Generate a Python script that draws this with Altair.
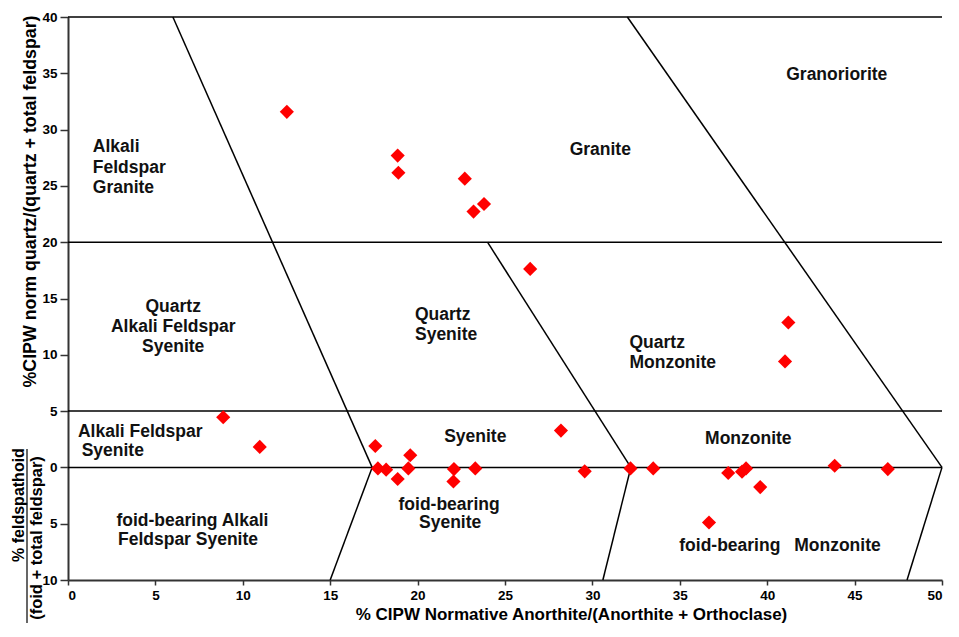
import altair as alt
import pandas as pd

# ---- sample points ----
pt_x = [12.52, 18.86, 18.90, 22.70, 23.20, 23.80, 26.44, 41.21, 41.02,
        8.88, 10.97, 17.58, 17.73, 18.20, 18.86, 19.58, 19.47, 22.08, 22.05, 23.30,
        28.20, 29.56, 32.18, 33.48, 37.77, 38.56, 38.79, 39.60, 36.67, 43.86, 46.90]
pt_y = [31.58, 27.69, 26.17, 25.64, 22.72, 23.39, 17.63, 12.87, 9.41,
        4.45, 1.82, 1.90, -0.09, -0.20, -1.03, 1.08, -0.09, -0.15, -1.25, -0.09,
        3.27, -0.35, -0.09, -0.09, -0.50, -0.38, -0.09, -1.75, -4.89, 0.15, -0.15]

# ---- field boundaries ----
seg_x1 = [0, 0, 0, 0, 6.0, 17.4, 24.0, 32.2, 32.0, 50.0]
seg_y1 = [40, 20, 5, 0, 40, 0, 20, 0, 40, 0]
seg_x2 = [50, 50, 50, 50, 17.4, 15.0, 32.2, 30.6, 50.0, 48.0]
seg_y2 = [40, 20, 5, 0, 0, -10, 0, -10, 0, -10]

# ---- field names (one entry per text line) ----
center_text = ["Granoriorite", "Granite", "Quartz", "Alkali Feldspar", "Syenite",
               "Syenite", "foid-bearing", "Syenite", "Monzonite", "foid-bearing", "Monzonite"]
center_x = [43.98, 30.45, 6.02, 6.02, 6.02, 23.3, 21.8, 21.86, 38.92, 37.86, 44.02]
center_y = [34.85, 28.2, 14.24, 12.48, 10.73, 2.72, -3.3, -4.95, 2.54, -6.96, -6.96]

left_text = ["Alkali", "Feldspar", "Granite", "Quartz", "Syenite", "Quartz", "Monzonite",
             "Alkali Feldspar", "Syenite", "foid-bearing Alkali", "Feldspar Syenite"]
left_x = [1.42, 1.42, 1.42, 19.85, 19.85, 32.12, 32.12, 0.57, 0.78, 2.77, 2.86]
left_y = [28.42, 26.6, 24.85, 13.5, 11.75, 11.03, 9.27, 3.13, 1.46, -4.8, -6.45]

x_ticks = list(range(0, 51, 5))
y_ticks = list(range(-10, 41, 5))

FONT = "Liberation Sans"

pts = pd.DataFrame({"x": pt_x, "y": pt_y})
segs = pd.DataFrame({"x": seg_x1, "y": seg_y1, "x2": seg_x2, "y2": seg_y2})
ctext = pd.DataFrame({"x": center_x, "y": center_y, "t": center_text})
ltext = pd.DataFrame({"x": left_x, "y": left_y, "t": left_text})

xscale = alt.Scale(domain=[0, 50], nice=False, zero=False)
yscale = alt.Scale(domain=[-10, 40], nice=False, zero=False)

xaxis = alt.Axis(values=x_ticks, format="d", grid=False,
                 labelFont=FONT, labelFontWeight="bold", labelFontSize=13.5, labelColor="black",
                 tickSize=5, labelPadding=3, tickColor="#333", tickWidth=1.5,
                 domainColor="#333", domainWidth=2,
                 title="% CIPW Normative Anorthite/(Anorthite + Orthoclase)",
                 titleFont=FONT, titleFontWeight="bold", titleFontSize=17, titleColor="black",
                 titleX=503, titleY=34, titleAlign="center", titleBaseline="middle")
yaxis = alt.Axis(values=y_ticks, labelExpr="abs(datum.value)", grid=False,
                 labelFont=FONT, labelFontWeight="bold", labelFontSize=13.5, labelColor="black",
                 tickSize=8, labelPadding=3, tickColor="#333", tickWidth=1.5,
                 domainColor="#333", domainWidth=2,
                 title="%CIPW norm quartz/(quartz + total feldspar)",
                 titleFont=FONT, titleFontWeight="bold", titleFontSize=17.8, titleColor="black",
                 titleX=-38, titleY=184, titleAngle=270, titleAlign="center", titleBaseline="middle")

lines = alt.Chart(segs).mark_rule(color="black", strokeWidth=1.5).encode(
    x=alt.X("x:Q", scale=xscale, axis=xaxis),
    y=alt.Y("y:Q", scale=yscale, axis=yaxis),
    x2="x2:Q", y2="y2:Q")

points = alt.Chart(pts).mark_point(shape="diamond", filled=True, color="#FF0000",
                                   size=200, opacity=1).encode(
    x=alt.X("x:Q", scale=xscale), y=alt.Y("y:Q", scale=yscale))

tc = alt.Chart(ctext).mark_text(align="center", baseline="middle", font=FONT,
                                fontWeight="bold", fontSize=17.5, color="#111").encode(
    x=alt.X("x:Q", scale=xscale), y=alt.Y("y:Q", scale=yscale), text="t:N")
tl = alt.Chart(ltext).mark_text(align="left", baseline="middle", font=FONT,
                                fontWeight="bold", fontSize=17.5, color="#111").encode(
    x=alt.X("x:Q", scale=xscale), y=alt.Y("y:Q", scale=yscale), text="t:N")

num = alt.Chart(pd.DataFrame({"t": ["% feldspathoid"]})).mark_text(
    angle=270, align="center", baseline="middle", font=FONT, fontWeight="bold",
    fontSize=16, color="black").encode(x=alt.value(-49), y=alt.value(488), text="t:N")
den = alt.Chart(pd.DataFrame({"t": ["(foid + total feldspar)"]})).mark_text(
    angle=270, align="center", baseline="middle", font=FONT, fontWeight="bold",
    fontSize=16.5, color="black").encode(x=alt.value(-31), y=alt.value(521), text="t:N")
frac = alt.Chart(pd.DataFrame({"k": [0]})).mark_rule(color="black", strokeWidth=1.2).encode(
    x=alt.value(-41), y=alt.value(432), y2=alt.value(606))

chart = alt.layer(lines, points, tc, tl, num, den, frac).properties(
    width=874, height=563,
    autosize=alt.AutoSizeParams(type="none"),
    padding={"left": 60, "top": 9, "right": 7, "bottom": 43},
).configure_view(stroke="transparent")

chart.save("out.html", embed_options={"renderer": "svg", "actions": False})
